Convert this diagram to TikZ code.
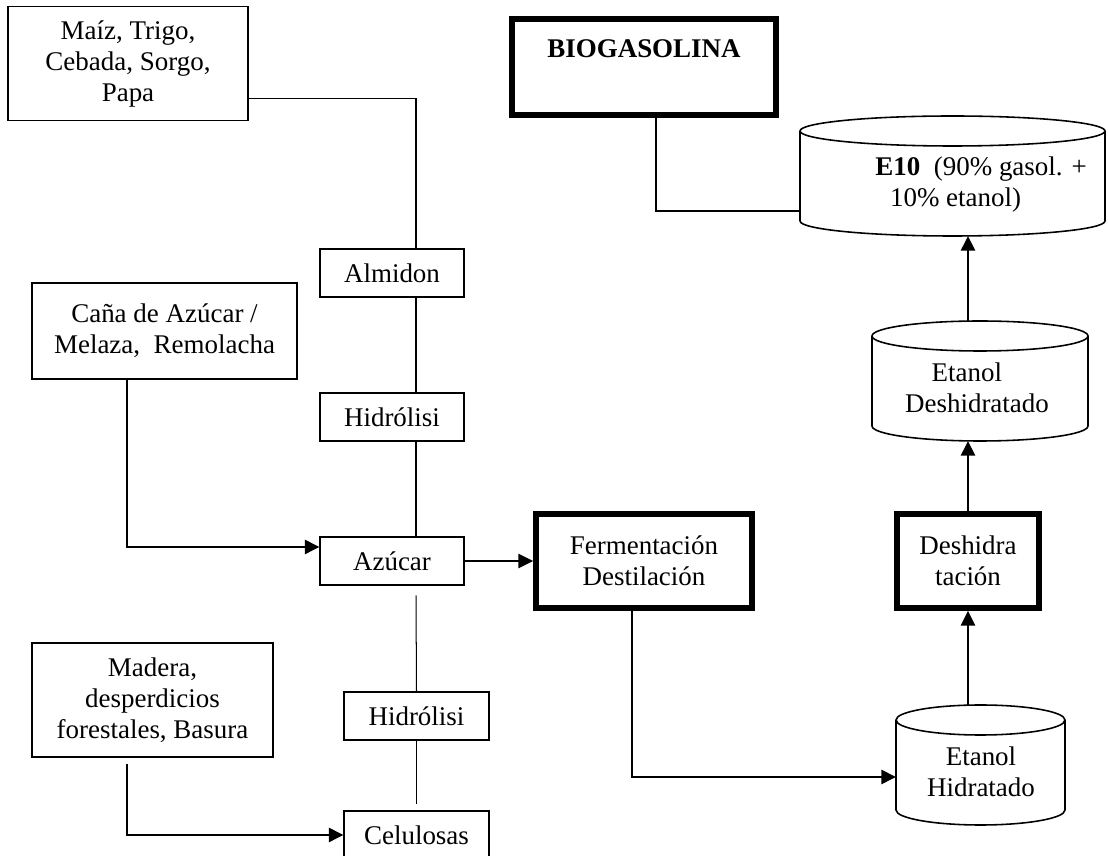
\documentclass[tikz,border=0pt]{standalone}
\usepackage{fontspec}
\setmainfont{Liberation Serif}
\usetikzlibrary{arrows.meta,calc}

% one drawing unit = one pixel of the layout grid
\def\pxu{0.445pt}

% rectangle node given by its corners (x1,y1) (x2,y2) in grid units
\newcommand\boxnode[7]{%
  \node[#1, minimum width={(#5-#3)*\pxu}, minimum height={(#6-#4)*\pxu}]
    (#2) at ({(#3+#5)/2},{(#4+#6)/2}) {#7};}

% storage tank outline around a named node: name, half width, ellipse radius
\newcommand\tankdraw[3]{%
  \draw[tankline] ($(#1.north west)+(0,#3)$) -- ($(#1.south west)+(0,-#3)$)
    arc[start angle=180, end angle=360, x radius=#2*\pxu, y radius=#3*\pxu]
    -- ($(#1.north east)+(0,#3)$)
    arc[start angle=0, end angle=360, x radius=#2*\pxu, y radius=#3*\pxu];}

\tikzset{
  every node/.style={font=\fontsize{12pt}{13.8pt}\selectfont},
  thinbox/.style={draw, line width=0.45pt, inner sep=0pt, align=center},
  midbox/.style={draw, line width=0.7pt, inner sep=0pt, align=center},
  heavybox/.style={draw, line width=2.6pt, inner sep=0pt, align=center},
  tankbody/.style={inner sep=0pt, outer sep=0pt},
  tankline/.style={line width=0.7pt},
  plainline/.style={line width=0.45pt},
  link/.style={line width=0.7pt},
  arr/.style={line width=0.8pt, -{Triangle[length=6.5pt, width=6.3pt]}},
  label/.style={inner sep=0pt, align=center},
}

\begin{document}
\begin{tikzpicture}[x=\pxu, y=-\pxu]
\useasboundingbox (0,0) rectangle (1108,856);

% raw materials
\boxnode{thinbox}{maiz}{8}{7}{248}{121}{Maíz, Trigo,\\Cebada, Sorgo,\\Papa}
\boxnode{midbox}{cana}{32}{283}{297}{379}{Caña de Azúcar /\\Melaza,\ \ Remolacha}
\boxnode{midbox}{madera}{32}{643}{273}{757}{Madera,\\desperdicios\\forestales, Basura}

% intermediate products
\boxnode{thinbox}{almidon}{320}{249}{464}{297}{Almidon}
\boxnode{thinbox}{hidA}{320}{393}{464}{441}{Hidrólisi}
\boxnode{thinbox}{azucar}{320}{537}{464}{585}{Azúcar}
\boxnode{thinbox}{hidB}{344}{692}{489}{740}{Hidrólisi}
\boxnode{thinbox}{celu}{344}{811}{489}{859}{Celulosas}

% processes
\boxnode{heavybox}{bio}{512}{19}{776}{115}{}
\node[label, font=\fontsize{12pt}{13.8pt}\selectfont\bfseries] (biotext) at (644,49) {BIOGASOLINA};
\boxnode{heavybox}{ferm}{536}{514}{752}{608}{Fermentación\\Destilación}
\boxnode{heavybox}{desh}{897}{514}{1039}{608}{Deshidra\\tación}

% tanks
\boxnode{tankbody}{etoh}{896}{705}{1065}{825}{}
\tankdraw{etoh}{84.5}{15}
\node[label] (etohtext) at (981,772) {Etanol\\Hidratado};

\boxnode{tankbody}{etanh}{872}{321}{1088}{441}{}
\tankdraw{etanh}{108}{15}
\node[label] (etanhtext) at (977,388) {Etanol\hspace*{9pt}\\Deshidratado};

\boxnode{tankbody}{eten}{800}{116}{1105}{236}{}
\tankdraw{eten}{152.5}{15}
\node[inner sep=0pt, align=left, anchor=west] (etentext) at (875,185)
  {\textbf{E10}\ \ (90\% gasol. +\\\hspace*{6.5pt}10\% etanol)};

% starch and cellulose route
\draw[plainline] ($(maiz.east)+(0,35)$) -| ($(almidon.north)+(24,0)$);
\draw[plainline] ($(almidon.south)+(24,0)$) -- ($(hidA.north)+(24,0)$);
\draw[plainline] ($(hidA.south)+(24,0)$) -- ($(azucar.north)+(24,0)$);
\draw[plainline] ($(azucar.south)+(24,10)$) -- (hidB.north);
\draw[plainline] (hidB.south) -- ($(celu.north)+(0,-6)$);

% feeds
\draw[arr] ($(cana.south west)+(96,0)$) |- ($(azucar.west)+(0,-14)$);
\draw[arr] ($(madera.south west)+(96,6)$) |- (celu.west);

% ethanol line
\draw[arr] (azucar.east) -- (ferm.west);
\draw[arr] ($(ferm.south)+(-12,0)$) |- ($(etoh.west)+(0,12)$);
\draw[arr] (etoh.north -| desh.south) -- (desh.south);
\draw[arr] (desh.north) -- (desh.north |- etanh.south);
\draw[arr] (etanh.north -| desh.north) -- (desh.north |- eten.south);

% blend
\draw[link] ($(bio.south)+(12,0)$) |- ($(eten.west)+(0,35)$);
\end{tikzpicture}
\end{document}
